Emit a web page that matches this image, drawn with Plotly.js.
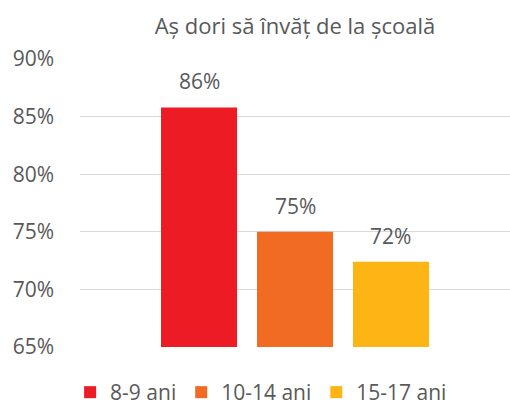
<!DOCTYPE html>
<html>
<head>
<meta charset="utf-8">
<script src="https://cdn.plot.ly/plotly-3.0.1.min.js"></script>
<style>html,body{margin:0;padding:0;background:#fff;}#chart{width:510px;height:405px;}</style>
</head>
<body>
<div id="chart"></div>
<script>
const chartTitle = 'Aș dori să învăț de la școală';
const categories = ['8-9 ani', '10-14 ani', '15-17 ani'];
const values = [85.8, 75.0, 72.4];
const colors = ['#ED1C24', '#F26B22', '#FDB515'];
const yTicks = [65, 70, 75, 80, 85, 90];

const textColor = '#595959';
const fontFam = '"Open Sans", "Liberation Sans", sans-serif';

const traces = categories.map((c, i) => ({
  type: 'bar',
  x: [c],
  y: [values[i]],
  name: c,
  marker: {color: colors[i]},
  hoverinfo: 'skip'
}));

const annotations = categories.map((c, i) => ({
  x: c, y: values[i], xref: 'x', yref: 'y',
  text: Math.round(values[i]) + '%',
  showarrow: false, yanchor: 'bottom', yshift: 10,
  font: {family: fontFam, size: 21, color: textColor}
}));

const layout = {
  width: 510, height: 405,
  margin: {l: 80, r: 0, t: 59, b: 58, autoexpand: false},
  paper_bgcolor: '#fff', plot_bgcolor: '#fff',
  font: {family: fontFam, color: textColor, size: 21},
  title: {text: chartTitle, font: {family: fontFam, size: 22, color: textColor},
          x: 0.5, xref: 'paper', xanchor: 'center', y: 1 - 26/405, yanchor: 'middle'},
  barmode: 'overlay',
  bargap: 0.208,
  xaxis: {type: 'category', range: [-1.24, 3.24], autorange: false, showticklabels: false, showgrid: false,
          zeroline: false, showline: false, ticks: '', fixedrange: true},
  yaxis: {range: [65, 90], autorange: false, tickvals: yTicks, ticktext: yTicks.map(v => v + '%'),
          showgrid: true, gridcolor: '#D9D9D9', gridwidth: 1, zeroline: false, showline: false,
          ticks: '', ticklabelstandoff: 25, tickfont: {family: fontFam, size: 21, color: textColor}},
  showlegend: true,
  legend: {orientation: 'h', x: -0.023, xanchor: 'left', y: -0.158, yanchor: 'middle',
           font: {family: fontFam, size: 21, color: textColor}, itemclick: false, traceorder: 'normal'},
  annotations: annotations
};

Plotly.newPlot('chart', traces, layout, {displayModeBar: false, staticPlot: true});
</script>
</body>
</html>
